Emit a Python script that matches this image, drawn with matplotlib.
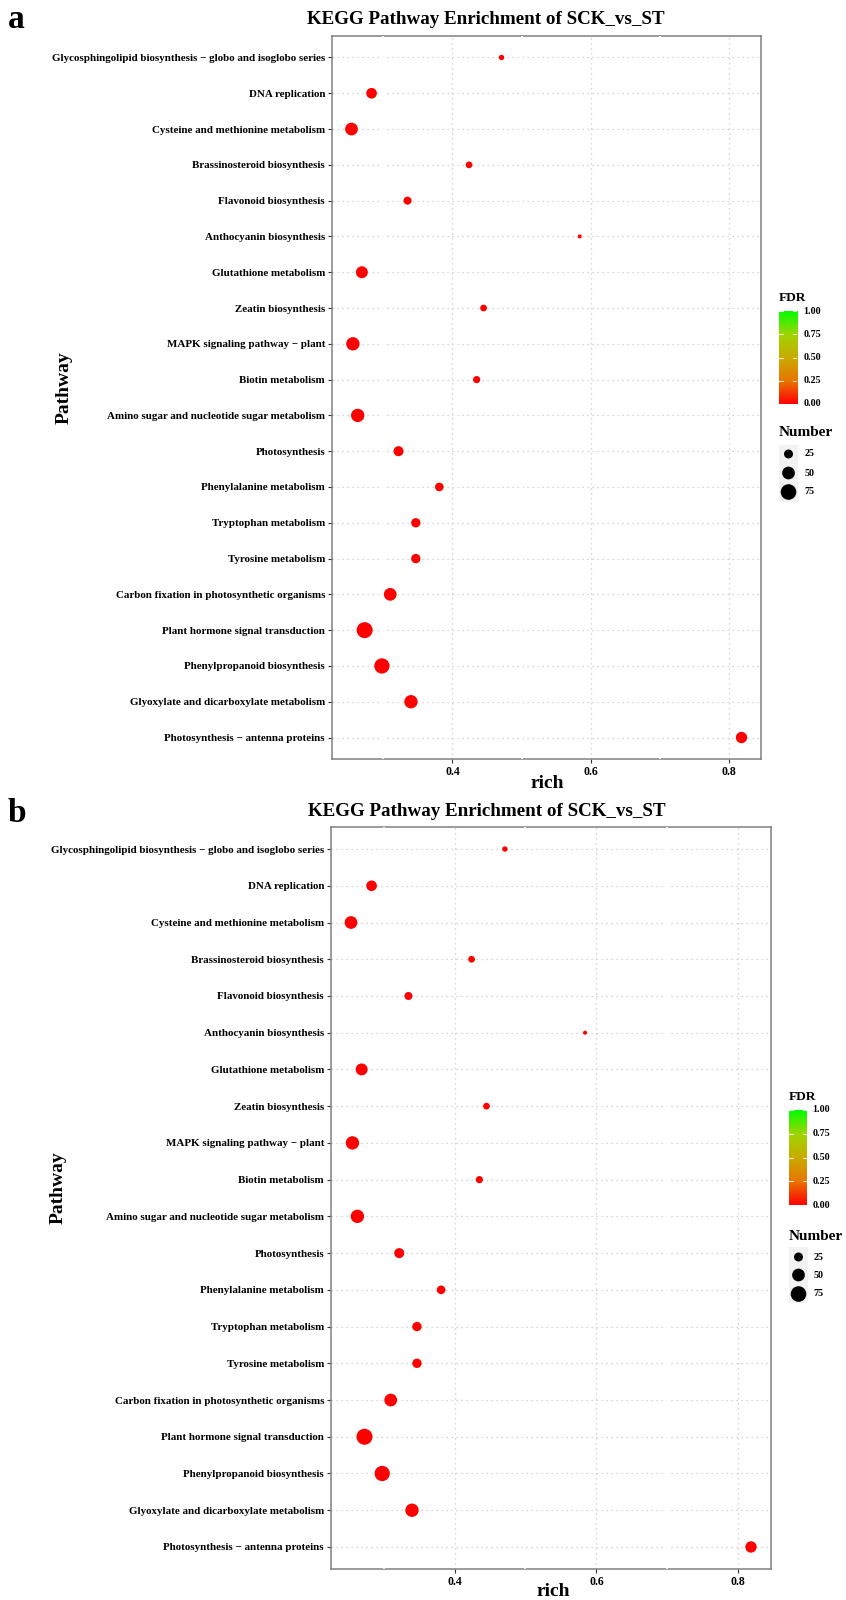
import numpy as np
import matplotlib
matplotlib.use("Agg")
import matplotlib.pyplot as plt
from matplotlib.colors import LinearSegmentedColormap

plt.rcParams["font.family"] = ["Liberation Serif", "DejaVu Serif"]
plt.rcParams["font.weight"] = "bold"

# pathways listed top to bottom as in the chart
pathways = [
    "Glycosphingolipid biosynthesis \u2212 globo and isoglobo series",
    "DNA replication",
    "Cysteine and methionine metabolism",
    "Brassinosteroid biosynthesis",
    "Flavonoid biosynthesis",
    "Anthocyanin biosynthesis",
    "Glutathione metabolism",
    "Zeatin biosynthesis",
    "MAPK signaling pathway \u2212 plant",
    "Biotin metabolism",
    "Amino sugar and nucleotide sugar metabolism",
    "Photosynthesis",
    "Phenylalanine metabolism",
    "Tryptophan metabolism",
    "Tyrosine metabolism",
    "Carbon fixation in photosynthetic organisms",
    "Plant hormone signal transduction",
    "Phenylpropanoid biosynthesis",
    "Glyoxylate and dicarboxylate metabolism",
    "Photosynthesis \u2212 antenna proteins",
]
rich = [0.471, 0.283, 0.254, 0.424, 0.335, 0.584, 0.269, 0.445, 0.256, 0.435,
        0.263, 0.322, 0.381, 0.347, 0.347, 0.310, 0.273, 0.298, 0.340, 0.818]
number = [9, 35, 50, 14, 20, 5, 44, 14, 55, 16,
          55, 31, 23, 27, 27, 50, 79, 72, 55, 40]
fdr = [0.0, 0.0, 0.0, 0.0, 0.0, 0.0, 0.0, 0.0, 0.0, 0.0,
       0.0, 0.0, 0.0, 0.0, 0.0, 0.0, 0.0, 0.0, 0.0, 0.0]

x_ticks = [0.4, 0.6, 0.8]
x_minor = [0.3, 0.5, 0.7]
fdr_ticks = [0.0, 0.25, 0.5, 0.75, 1.0]
size_breaks = [25, 50, 75]
title = "KEGG Pathway Enrichment of SCK_vs_ST"

W, H = 846, 1600
SIZE_K = 1.68  # pt^2 per gene

cmap = LinearSegmentedColormap.from_list(
    "fdr", ["#FF0000", "#E87600", "#C9AB00", "#9FD500", "#00FF00"])

fig = plt.figure(figsize=(W / 100, H / 100), dpi=100)


def box(x0, y0, x1, y1):
    return [x0 / W, 1 - y1 / H, (x1 - x0) / W, (y1 - y0) / H]


def panel(letter, ax_box, title_xy, letter_xy, path_xy, rich_xy, cb_box, fdr_title_y,
          key_box, key_rows, num_title_y, lab_x):
    ax = fig.add_axes(box(*ax_box))
    n = len(pathways)
    y = np.arange(n)[::-1]
    ax.scatter(rich, y, s=np.array(number) * SIZE_K, c=fdr, cmap=cmap,
               vmin=0, vmax=1, linewidths=0, zorder=4)
    lo, hi = min(rich), max(rich)
    pad = 0.05 * (hi - lo)
    ax.set_xlim(lo - pad, hi + pad)
    ax.set_ylim(-0.6, n - 0.4)
    ax.set_yticks(y, pathways)
    ax.set_xticks(x_ticks, [f"{t:.1f}" for t in x_ticks])
    ax.tick_params(length=3, width=0.8, color="#333333", pad=2, labelsize=7.9)
    ax.tick_params(axis="x", labelsize=8.5)
    ax.grid(True, color="#c8c8c8", linestyle=(0, (1, 3)), linewidth=0.9)
    ax.set_axisbelow(True)
    for xm in x_minor:
        ax.axvline(xm, color="white", lw=1.2, zorder=3)
    for sp in ax.spines.values():
        sp.set_color("#808080")
        sp.set_linewidth(1.1)

    fig.text(title_xy[0] / W, 1 - title_xy[1] / H, title, ha="center", va="center",
             fontsize=13.7, fontweight="bold")
    fig.text(letter_xy[0] / W, 1 - letter_xy[1] / H, letter, ha="left", va="center",
             fontsize=24, fontweight="bold")
    fig.text(path_xy[0] / W, 1 - path_xy[1] / H, "Pathway", ha="center", va="center",
             rotation=90, fontsize=14, fontweight="bold")
    fig.text(rich_xy[0] / W, 1 - rich_xy[1] / H, "rich", ha="center", va="center",
             fontsize=14, fontweight="bold")

    # FDR colour bar
    cax = fig.add_axes(box(*cb_box))
    grad = np.linspace(0, 1, 256).reshape(-1, 1)
    cax.imshow(grad, cmap=cmap, aspect="auto", origin="lower", extent=(0, 1, 0, 1))
    cax.set_xlim(0, 1)
    cax.set_ylim(0, 1)
    for t in fdr_ticks:
        cax.plot([0, 0.2], [t, t], color="white", lw=0.8, alpha=0.8)
        cax.plot([0.8, 1], [t, t], color="white", lw=0.8, alpha=0.8)
        cax.text(lab_x, t, f"{t:.2f}", transform=cax.get_yaxis_transform(),
                 ha="left", va="center", fontsize=7.2, fontweight="bold")
    cax.set_axis_off()
    fig.text(cb_box[0] / W, 1 - fdr_title_y / H, "FDR", ha="left", va="center",
             fontsize=9.5, fontweight="bold")

    # size legend
    kax = fig.add_axes(box(*key_box))
    kax.set_facecolor("#f2f2f2")
    kax.set_xlim(0, 1)
    kax.set_ylim(key_box[3], key_box[1])
    kax.scatter([0.5] * len(size_breaks), key_rows, s=np.array(size_breaks) * SIZE_K,
                color="black", linewidths=0)
    for b, ry in zip(size_breaks, key_rows):
        kax.text(lab_x, ry, str(b), transform=kax.get_yaxis_transform(),
                 ha="left", va="center", fontsize=7.2, fontweight="bold")
    kax.set_xticks([])
    kax.set_yticks([])
    for sp in kax.spines.values():
        sp.set_visible(False)
    fig.text(key_box[0] / W, 1 - num_title_y / H, "Number", ha="left", va="center",
             fontsize=11, fontweight="bold")


panel("a", (332, 36, 761, 759), (486, 20), (8, 20), (64, 388), (547, 783),
      (779, 311, 797, 404), 298, (779, 445, 798, 502), [454, 473, 492], 433, 1.35)
panel("b", (331, 827, 771, 1569), (487, 812), (8, 814), (58, 1188), (553, 1591),
      (789, 1110, 807, 1205), 1097, (789, 1247, 808, 1303), [1257, 1275, 1294], 1237, 1.3)

fig.savefig("out.png", dpi=100)
